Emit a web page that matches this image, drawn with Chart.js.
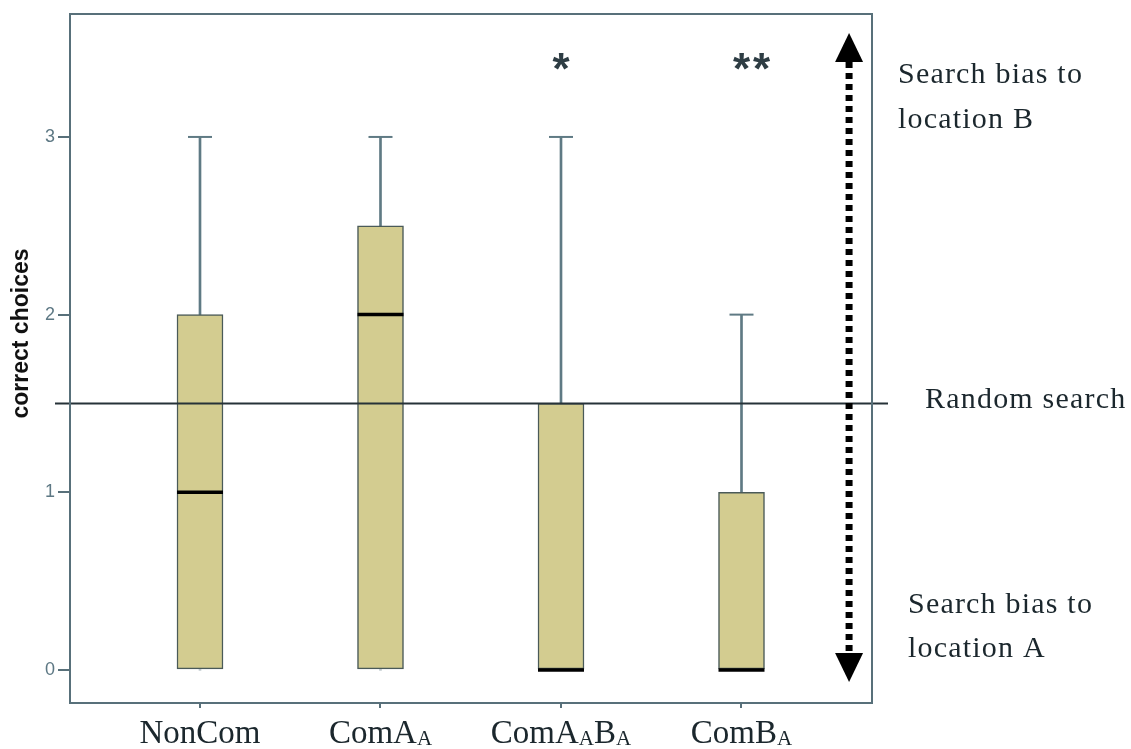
<!DOCTYPE html>
<html>
<head>
<meta charset="utf-8">
<script src="https://cdn.jsdelivr.net/npm/chart.js@4/dist/chart.umd.min.js"></script>
<style>
  html, body { margin: 0; padding: 0; background: #ffffff; }
  #wrap { width: 1131px; height: 749px; position: relative; }
</style>
</head>
<body>
<div id="wrap"><canvas id="chart" width="1131" height="749"></canvas></div>
<script>
// Groups on the x axis; "_X" marks a subscript letter
const categories = ['NonCom', 'ComA_A', 'ComA_AB_A', 'ComB_A'];
// Box plot summary of correct choices per group
const whiskerLow  = [0, 0, 0, 0];
const quartile1   = [0, 0, 0, 0];
const medians     = [1, 2, 0, 0];
const quartile3   = [2, 2.5, 1.5, 1];
const whiskerHigh = [3, 3, 3, 2];
// Significance markers above each group
const significance = ['', '', '*', '**'];
// Chance level and y tick values
const randomLevel = 1.5;
const yTickValues = [0, 1, 2, 3];

const AXIS_COLOR = '#58707a';
const WHISKER_COLOR = '#5f7a84';
const BOX_FILL = '#d3cc90';
const BOX_EDGE = '#4a5a58';
const TEXT_DARK = '#1b272d';
const SERIF = "'Liberation Serif', 'Times New Roman', serif";

// Splits a label so that "_X" becomes a smaller, lowered subscript
function labelRuns(label) {
  const runs = [];
  const parts = label.split('_');
  runs.push({ text: parts[0], sub: false });
  for (let i = 1; i < parts.length; i++) {
    runs.push({ text: parts[i].charAt(0), sub: true });
    if (parts[i].length > 1) runs.push({ text: parts[i].slice(1), sub: false });
  }
  return runs;
}
function drawSubscriptLabel(ctx, label, cx, baseline, size) {
  const runs = labelRuns(label);
  const subSize = Math.round(size * 0.64);
  let total = 0;
  runs.forEach(r => {
    ctx.font = (r.sub ? subSize : size) + 'px ' + SERIF;
    r.w = ctx.measureText(r.text).width;
    total += r.w;
  });
  let x = cx - total / 2;
  ctx.textAlign = 'left';
  ctx.textBaseline = 'alphabetic';
  runs.forEach(r => {
    ctx.font = (r.sub ? subSize : size) + 'px ' + SERIF;
    ctx.fillText(r.text, x, baseline + (r.sub ? 2 : 0));
    x += r.w;
  });
}

const annotationPlugin = {
  id: 'boxAnnotations',
  afterDatasetsDraw(chart, args, opts) {
    const { ctx, chartArea, scales: { x, y } } = chart;
    ctx.save();
    // chance-level line, running past both plot edges
    const yr = y.getPixelForValue(opts.randomLevel);
    ctx.strokeStyle = '#263238';
    ctx.lineWidth = 2;
    ctx.beginPath();
    ctx.moveTo(chartArea.left - 15, yr);
    ctx.lineTo(chartArea.right + 16, yr);
    ctx.stroke();

    // dotted double-headed arrow
    const ax = x.getPixelForValue(opts.arrowX);
    const aTop = y.getPixelForValue(opts.arrowTop);
    const aBot = y.getPixelForValue(opts.arrowBottom);
    const head = 29, halfW = 14;
    ctx.strokeStyle = '#000';
    ctx.fillStyle = '#000';
    ctx.lineWidth = 7;
    ctx.setLineDash([6, 5]);
    ctx.beginPath();
    ctx.moveTo(ax, aTop + head);
    ctx.lineTo(ax, aBot - head);
    ctx.stroke();
    ctx.setLineDash([]);
    ctx.beginPath();
    ctx.moveTo(ax, aTop);
    ctx.lineTo(ax + halfW, aTop + head);
    ctx.lineTo(ax - halfW, aTop + head);
    ctx.closePath();
    ctx.fill();
    ctx.beginPath();
    ctx.moveTo(ax, aBot);
    ctx.lineTo(ax + halfW, aBot - head);
    ctx.lineTo(ax - halfW, aBot - head);
    ctx.closePath();
    ctx.fill();

    // significance asterisks
    ctx.fillStyle = '#2e3d44';
    ctx.font = "bold 44px 'Liberation Sans', Arial, sans-serif";
    ctx.textAlign = 'center';
    ctx.textBaseline = 'alphabetic';
    const ys = y.getPixelForValue(opts.starLevel);
    significance.forEach((s, i) => {
      const cx = x.getPixelForValue(i);
      for (let k = 0; k < s.length; k++) {
        ctx.fillText('*', cx + k * 20, ys + 22);
      }
    });
    ctx.restore();
  },
  afterDraw(chart, args, opts) {
    const { ctx, chartArea, scales: { x, y } } = chart;
    ctx.save();
    // plot frame
    ctx.strokeStyle = AXIS_COLOR;
    ctx.lineWidth = 2;
    ctx.strokeRect(chartArea.left, chartArea.top, chartArea.right - chartArea.left, chartArea.bottom - chartArea.top);

    // category labels with subscripts
    ctx.fillStyle = TEXT_DARK;
    categories.forEach((c, i) => {
      drawSubscriptLabel(ctx, c, x.getPixelForValue(i), chartArea.bottom + 40, 33);
    });

    // y axis title
    ctx.save();
    ctx.translate(22, (chartArea.top + chartArea.bottom) / 2 - 25);
    ctx.rotate(-Math.PI / 2);
    ctx.font = "bold 23px 'Liberation Sans', Arial, sans-serif";
    ctx.fillStyle = '#111';
    ctx.textAlign = 'center';
    ctx.textBaseline = 'middle';
    ctx.fillText('correct choices', 0, 0);
    ctx.restore();

    // side notes
    ctx.fillStyle = TEXT_DARK;
    ctx.font = '30px ' + SERIF;
    ctx.textAlign = 'left';
    ctx.textBaseline = 'alphabetic';
    if ('letterSpacing' in ctx) ctx.letterSpacing = '1.2px';
    ctx.fillText('Search bias to', 898, 83);
    ctx.fillText('location B', 898, 128);
    ctx.fillText('Random search', 925, 408);
    ctx.fillText('Search bias to', 908, 613);
    ctx.fillText('location A', 908, 657);
    ctx.restore();
  }
};

new Chart(document.getElementById('chart'), {
  type: 'bar',
  data: {
    datasets: [
      {
        label: 'upper whisker',
        data: categories.map((c, i) => ({ x: i, y: [quartile3[i], whiskerHigh[i]] })),
        backgroundColor: WHISKER_COLOR,
        barThickness: 2,
        grouped: false,
        order: 5
      },
      {
        label: 'lower whisker',
        data: categories.map((c, i) => ({ x: i, y: [whiskerLow[i], quartile1[i]] })),
        backgroundColor: WHISKER_COLOR,
        barThickness: 2,
        grouped: false,
        order: 5
      },
      {
        label: 'interquartile range',
        data: categories.map((c, i) => ({ x: i, y: [quartile1[i], quartile3[i]] })),
        backgroundColor: BOX_FILL,
        borderColor: BOX_EDGE,
        borderWidth: 1.5,
        borderSkipped: false,
        barThickness: 46,
        grouped: false,
        order: 4
      },
      {
        type: 'scatter',
        label: 'whisker cap',
        data: categories.map((c, i) => ({ x: i, y: whiskerHigh[i] })),
        pointStyle: 'line',
        radius: 12,
        borderWidth: 2,
        borderColor: WHISKER_COLOR,
        order: 3
      },
      {
        type: 'scatter',
        label: 'median',
        data: categories.map((c, i) => ({ x: i, y: medians[i] })),
        pointStyle: 'line',
        radius: 23,
        borderWidth: 3.5,
        borderColor: '#000',
        order: 1
      }
    ]
  },
  options: {
    responsive: false,
    animation: false,
    events: [],
    layout: { autoPadding: false, padding: { left: 0, right: 259, top: 14, bottom: 0 } },
    plugins: {
      legend: { display: false },
      tooltip: { enabled: false },
      boxAnnotations: {
        randomLevel: randomLevel,
        arrowX: 3.596,
        arrowTop: 3.585,
        arrowBottom: -0.068,
        starLevel: 3.42
      }
    },
    scales: {
      x: {
        type: 'linear',
        offset: false,
        min: -0.7202,
        max: 3.723,
        afterBuildTicks: axis => { axis.ticks = categories.map((c, i) => ({ value: i })); },
        afterFit: axis => { axis.height = 46; axis.paddingLeft = 0; axis.paddingRight = 0; },
        ticks: { display: false },
        grid: { offset: false, drawOnChartArea: false, drawTicks: true, tickLength: 5, color: AXIS_COLOR, lineWidth: 2 },
        border: { display: true, color: AXIS_COLOR, width: 2 }
      },
      y: {
        type: 'linear',
        min: -0.186,
        max: 3.692,
        afterBuildTicks: axis => { axis.ticks = yTickValues.map(v => ({ value: v })); },
        afterFit: axis => { axis.width = 70; axis.paddingTop = 0; axis.paddingBottom = 0; },
        ticks: {
          color: '#5d7884',
          padding: 3,
          font: { family: "'Liberation Sans', Arial, sans-serif", size: 18 },
          callback: v => String(v)
        },
        grid: { drawOnChartArea: false, drawTicks: true, tickLength: 12, color: AXIS_COLOR, lineWidth: 2 },
        border: { display: true, color: AXIS_COLOR, width: 2 }
      }
    }
  },
  plugins: [annotationPlugin]
});
</script>
</body>
</html>
